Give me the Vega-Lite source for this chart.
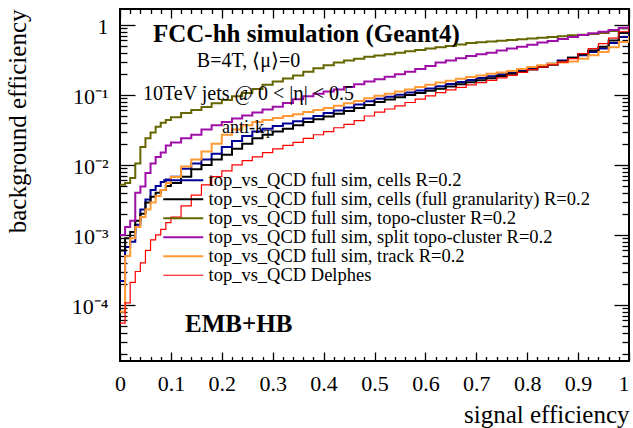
{
  "$schema": "https://vega.github.io/schema/vega-lite/v6.json",
  "width": 509,
  "height": 352,
  "autosize": {"type": "none"},
  "padding": {"left": 120, "top": 9, "right": 4, "bottom": 67},
  "background": "white",
  "config": {
    "view": {"stroke": "black", "strokeWidth": 2},
    "font": "Liberation Serif",
    "axis": {"grid": false, "domain": false, "tickColor": "black", "tickWidth": 1.3, "labelColor": "black", "titleColor": "black", "labelFont": "Liberation Serif", "titleFont": "Liberation Serif", "labelFontSize": 22, "titleFontSize": 25, "titleFontWeight": "normal", "labelOverlap": false, "labelFlush": false, "labelBound": false},
    "legend": {"labelFont": "Liberation Serif", "labelColor": "black"}
  },
  "datasets": {
    "roc": [
      {"x": 0.00, "c1": 0.00022, "c2": 0.0006, "c3": 0.0052, "c4": 0.0010, "c5": 0.00008, "c6": 0.000055},
      {"x": 0.01, "c1": 0.00067, "c2": 0.0009, "c3": 0.0055, "c4": 0.0013, "c5": 0.0005, "c6": 0.000107},
      {"x": 0.02, "c1": 0.0008, "c2": 0.0011, "c3": 0.0065, "c4": 0.0016, "c5": 0.0009, "c6": 0.00021},
      {"x": 0.03, "c1": 0.0014, "c2": 0.0016, "c3": 0.0105, "c4": 0.004, "c5": 0.0013, "c6": 0.0003},
      {"x": 0.04, "c1": 0.0023, "c2": 0.0020, "c3": 0.018, "c4": 0.0049, "c5": 0.0018, "c6": 0.0004},
      {"x": 0.05, "c1": 0.0032, "c2": 0.0029, "c3": 0.024, "c4": 0.0077, "c5": 0.0023, "c6": 0.0006},
      {"x": 0.06, "c1": 0.0044, "c2": 0.0035, "c3": 0.029, "c4": 0.0105, "c5": 0.0029, "c6": 0.00085},
      {"x": 0.07, "c1": 0.0050, "c2": 0.0040, "c3": 0.035, "c4": 0.013, "c5": 0.0036, "c6": 0.0010},
      {"x": 0.08, "c1": 0.0057, "c2": 0.0044, "c3": 0.040, "c4": 0.015, "c5": 0.0044, "c6": 0.0012},
      {"x": 0.09, "c1": 0.0062, "c2": 0.0050, "c3": 0.044, "c4": 0.019, "c5": 0.0055, "c6": 0.0015},
      {"x": 0.10, "c1": 0.0068, "c2": 0.0055, "c3": 0.048, "c4": 0.021, "c5": 0.0067, "c6": 0.0018},
      {"x": 0.12, "c1": 0.0088, "c2": 0.0068, "c3": 0.055, "c4": 0.024, "c5": 0.0095, "c6": 0.0026},
      {"x": 0.14, "c1": 0.0105, "c2": 0.0087, "c3": 0.061, "c4": 0.027, "c5": 0.012, "c6": 0.0037},
      {"x": 0.16, "c1": 0.012, "c2": 0.010, "c3": 0.067, "c4": 0.032, "c5": 0.0155, "c6": 0.0052},
      {"x": 0.18, "c1": 0.0145, "c2": 0.012, "c3": 0.076, "c4": 0.037, "c5": 0.020, "c6": 0.0068},
      {"x": 0.20, "c1": 0.018, "c2": 0.014, "c3": 0.085, "c4": 0.041, "c5": 0.027, "c6": 0.0082},
      {"x": 0.22, "c1": 0.022, "c2": 0.017, "c3": 0.096, "c4": 0.046, "c5": 0.032, "c6": 0.010},
      {"x": 0.24, "c1": 0.026, "c2": 0.020, "c3": 0.107, "c4": 0.051, "c5": 0.037, "c6": 0.0115},
      {"x": 0.26, "c1": 0.030, "c2": 0.024, "c3": 0.122, "c4": 0.056, "c5": 0.041, "c6": 0.013},
      {"x": 0.28, "c1": 0.033, "c2": 0.027, "c3": 0.14, "c4": 0.062, "c5": 0.044, "c6": 0.015},
      {"x": 0.30, "c1": 0.036, "c2": 0.030, "c3": 0.155, "c4": 0.068, "c5": 0.047, "c6": 0.017},
      {"x": 0.32, "c1": 0.039, "c2": 0.033, "c3": 0.172, "c4": 0.077, "c5": 0.050, "c6": 0.019},
      {"x": 0.34, "c1": 0.042, "c2": 0.037, "c3": 0.19, "c4": 0.087, "c5": 0.053, "c6": 0.021},
      {"x": 0.36, "c1": 0.046, "c2": 0.041, "c3": 0.215, "c4": 0.096, "c5": 0.057, "c6": 0.024},
      {"x": 0.38, "c1": 0.050, "c2": 0.045, "c3": 0.24, "c4": 0.104, "c5": 0.061, "c6": 0.027},
      {"x": 0.40, "c1": 0.055, "c2": 0.049, "c3": 0.265, "c4": 0.112, "c5": 0.065, "c6": 0.030},
      {"x": 0.42, "c1": 0.060, "c2": 0.054, "c3": 0.29, "c4": 0.12, "c5": 0.070, "c6": 0.034},
      {"x": 0.44, "c1": 0.066, "c2": 0.059, "c3": 0.31, "c4": 0.13, "c5": 0.076, "c6": 0.038},
      {"x": 0.46, "c1": 0.073, "c2": 0.065, "c3": 0.33, "c4": 0.142, "c5": 0.082, "c6": 0.043},
      {"x": 0.48, "c1": 0.081, "c2": 0.072, "c3": 0.35, "c4": 0.155, "c5": 0.090, "c6": 0.050},
      {"x": 0.50, "c1": 0.088, "c2": 0.079, "c3": 0.365, "c4": 0.168, "c5": 0.097, "c6": 0.057},
      {"x": 0.52, "c1": 0.094, "c2": 0.086, "c3": 0.38, "c4": 0.182, "c5": 0.104, "c6": 0.063},
      {"x": 0.54, "c1": 0.101, "c2": 0.093, "c3": 0.40, "c4": 0.198, "c5": 0.112, "c6": 0.070},
      {"x": 0.56, "c1": 0.108, "c2": 0.100, "c3": 0.42, "c4": 0.215, "c5": 0.120, "c6": 0.078},
      {"x": 0.58, "c1": 0.116, "c2": 0.107, "c3": 0.44, "c4": 0.235, "c5": 0.130, "c6": 0.087},
      {"x": 0.60, "c1": 0.124, "c2": 0.115, "c3": 0.46, "c4": 0.26, "c5": 0.140, "c6": 0.097},
      {"x": 0.62, "c1": 0.133, "c2": 0.123, "c3": 0.48, "c4": 0.29, "c5": 0.150, "c6": 0.108},
      {"x": 0.64, "c1": 0.143, "c2": 0.132, "c3": 0.50, "c4": 0.31, "c5": 0.160, "c6": 0.118},
      {"x": 0.66, "c1": 0.153, "c2": 0.142, "c3": 0.525, "c4": 0.335, "c5": 0.170, "c6": 0.128},
      {"x": 0.68, "c1": 0.163, "c2": 0.152, "c3": 0.55, "c4": 0.36, "c5": 0.180, "c6": 0.139},
      {"x": 0.70, "c1": 0.174, "c2": 0.162, "c3": 0.565, "c4": 0.38, "c5": 0.190, "c6": 0.150},
      {"x": 0.72, "c1": 0.185, "c2": 0.173, "c3": 0.58, "c4": 0.40, "c5": 0.200, "c6": 0.162},
      {"x": 0.74, "c1": 0.197, "c2": 0.186, "c3": 0.595, "c4": 0.43, "c5": 0.210, "c6": 0.175},
      {"x": 0.76, "c1": 0.21, "c2": 0.20, "c3": 0.61, "c4": 0.46, "c5": 0.220, "c6": 0.19},
      {"x": 0.78, "c1": 0.225, "c2": 0.215, "c3": 0.625, "c4": 0.49, "c5": 0.235, "c6": 0.21},
      {"x": 0.80, "c1": 0.24, "c2": 0.23, "c3": 0.64, "c4": 0.52, "c5": 0.250, "c6": 0.23},
      {"x": 0.82, "c1": 0.26, "c2": 0.25, "c3": 0.655, "c4": 0.56, "c5": 0.265, "c6": 0.25},
      {"x": 0.84, "c1": 0.28, "c2": 0.27, "c3": 0.67, "c4": 0.59, "c5": 0.280, "c6": 0.27},
      {"x": 0.86, "c1": 0.31, "c2": 0.30, "c3": 0.69, "c4": 0.63, "c5": 0.290, "c6": 0.295},
      {"x": 0.88, "c1": 0.34, "c2": 0.34, "c3": 0.71, "c4": 0.67, "c5": 0.300, "c6": 0.33},
      {"x": 0.90, "c1": 0.37, "c2": 0.38, "c3": 0.725, "c4": 0.72, "c5": 0.330, "c6": 0.39},
      {"x": 0.92, "c1": 0.41, "c2": 0.43, "c3": 0.745, "c4": 0.76, "c5": 0.370, "c6": 0.46},
      {"x": 0.94, "c1": 0.46, "c2": 0.49, "c3": 0.77, "c4": 0.80, "c5": 0.410, "c6": 0.54},
      {"x": 0.96, "c1": 0.55, "c2": 0.60, "c3": 0.82, "c4": 0.85, "c5": 0.480, "c6": 0.65},
      {"x": 0.98, "c1": 0.67, "c2": 0.77, "c3": 0.90, "c4": 0.91, "c5": 0.570, "c6": 0.80},
      {"x": 1.00, "c1": 0.85, "c2": 0.88, "c3": 0.95, "c4": 0.97, "c5": 0.700, "c6": 0.92}
    ]
  },
  "layer": [
    {
      "data": {"name": "roc"},
      "transform": [{"fold": ["c1", "c2", "c3", "c4", "c5", "c6"], "as": ["series", "eff"]}],
      "mark": {"type": "line", "interpolate": "step-after", "clip": true},
      "encoding": {
        "x": {
          "field": "x", "type": "quantitative",
          "scale": {"domain": [0, 1], "nice": false, "zero": false},
          "axis": {
            "orient": "bottom",
            "values": [0,0.02,0.04,0.06,0.08,0.1,0.12,0.14,0.16,0.18,0.2,0.22,0.24,0.26,0.28,0.3,0.32,0.34,0.36,0.38,0.4,0.42,0.44,0.46,0.48,0.5,0.52,0.54,0.56,0.58,0.6,0.62,0.64,0.66,0.68,0.7,0.72,0.74,0.76,0.78,0.8,0.82,0.84,0.86,0.88,0.9,0.92,0.94,0.96,0.98,1],
            "format": "~g",
            "labelOverlap": false,
            "labelExpr": "abs(datum.value*10 - round(datum.value*10)) < 0.001 ? datum.label : ''",
            "labelAlign": {"condition": {"test": "datum.value == 1", "value": "right"}, "value": "center"},
            "tickSize": {"condition": {"test": "abs(datum.value*10 - round(datum.value*10)) < 0.001", "value": -9}, "value": -4.5},
            "labelPadding": 21,
            "title": "signal efficiency",
            "titleAnchor": "end",
            "titlePadding": 4
          }
        },
        "y": {
          "field": "eff", "type": "quantitative",
          "scale": {"type": "log", "domain": [0.0000158, 1.69], "nice": false},
          "axis": {
            "orient": "left",
            "values": [0.00002,0.00003,0.00004,0.00005,0.00006,0.00007,0.00008,0.00009,0.0001,0.0002,0.0003,0.0004,0.0005,0.0006,0.0007,0.0008,0.0009,0.001,0.002,0.003,0.004,0.005,0.006,0.007,0.008,0.009,0.01,0.02,0.03,0.04,0.05,0.06,0.07,0.08,0.09,0.1,0.2,0.3,0.4,0.5,0.6,0.7,0.8,0.9,1],
            "labelOverlap": false,
            "labelExpr": "datum.value == 1 ? '1' : datum.value == 0.1 ? '10⁻¹' : datum.value == 0.01 ? '10⁻²' : datum.value == 0.001 ? '10⁻³' : datum.value == 0.0001 ? '10⁻⁴' : ''",
            "tickSize": {"condition": {"test": "datum.value == 1 || datum.value == 0.1 || datum.value == 0.01 || datum.value == 0.001 || datum.value == 0.0001", "value": -15}, "value": -7},
            "labelPadding": 27,
            "labelOffset": 2,
            "title": "background efficiency",
            "titleAnchor": "end",
            "titlePadding": 41
          }
        },
        "color": {
          "field": "series", "type": "nominal",
          "scale": {"domain": ["c1", "c2", "c3", "c4", "c5", "c6"], "range": ["#000099", "#000000", "#666600", "#9f0fa8", "#ff9933", "#ff0000"]},
          "legend": {
            "orient": "none", "legendX": 54, "legendY": 162, "title": null,
            "symbolType": "M-4,0H4", "symbolSize": 100, "symbolStrokeWidth": 2,
            "labelFont": "Liberation Serif", "labelFontSize": 18.5, "labelColor": "black", "labelLimit": 800,
            "labelOffset": 16, "rowPadding": 0, "padding": 0,
            "labelExpr": "datum.label == 'c1' ? 'top_vs_QCD full sim, cells R=0.2' : datum.label == 'c2' ? 'top_vs_QCD full sim, cells (full granularity) R=0.2' : datum.label == 'c3' ? 'top_vs_QCD full sim, topo-cluster R=0.2' : datum.label == 'c4' ? 'top_vs_QCD full sim, split topo-cluster R=0.2' : datum.label == 'c5' ? 'top_vs_QCD full sim, track R=0.2' : 'top_vs_QCD Delphes'"
          }
        },
        "strokeWidth": {
          "field": "series", "type": "nominal",
          "scale": {"type": "ordinal", "domain": ["c1", "c2", "c3", "c4", "c5", "c6"], "range": [2, 2, 2, 2, 2, 1.2]},
          "legend": null
        }
      }
    },
    {
      "layer": [
        {
          "data": {"values": [{}]},
          "mark": {"type": "text", "text": "FCC-hh simulation (Geant4)", "font": "Liberation Serif", "fontWeight": "bold", "fontSize": 25, "align": "left", "baseline": "alphabetic", "color": "black"},
          "encoding": {
            "x": {"datum": 0.0648, "type": "quantitative", "axis": null},
            "y": {"datum": 0.571, "type": "quantitative", "axis": null}
          }
        },
        {
          "data": {"values": [{}]},
          "mark": {"type": "text", "text": "B=4T, ⟨μ⟩=0", "font": "Liberation Serif", "fontSize": 20, "align": "left", "baseline": "alphabetic", "color": "black"},
          "encoding": {
            "x": {"datum": 0.151, "type": "quantitative", "axis": null},
            "y": {"datum": 0.251, "type": "quantitative", "axis": null}
          }
        },
        {
          "data": {"values": [{}]},
          "mark": {"type": "text", "text": "10TeV jets @ 0 < |η| < 0.5", "font": "Liberation Serif", "fontSize": 20, "align": "left", "baseline": "alphabetic", "color": "black"},
          "encoding": {
            "x": {"datum": 0.0452, "type": "quantitative", "axis": null},
            "y": {"datum": 0.0848, "type": "quantitative", "axis": null}
          }
        },
        {
          "data": {"values": [{}]},
          "mark": {"type": "text", "text": "anti-k", "font": "Liberation Serif", "fontSize": 18, "align": "left", "baseline": "alphabetic", "color": "black"},
          "encoding": {
            "x": {"datum": 0.2004, "type": "quantitative", "axis": null},
            "y": {"datum": 0.0287, "type": "quantitative", "axis": null}
          }
        },
        {
          "data": {"values": [{}]},
          "mark": {"type": "text", "text": "T", "font": "Liberation Serif", "fontSize": 13, "align": "left", "baseline": "alphabetic", "color": "black"},
          "encoding": {
            "x": {"datum": 0.283, "type": "quantitative", "axis": null},
            "y": {"datum": 0.0243, "type": "quantitative", "axis": null}
          }
        },
        {
          "data": {"values": [{}]},
          "mark": {"type": "text", "text": "EMB+HB", "font": "Liberation Serif", "fontWeight": "bold", "fontSize": 25, "align": "left", "baseline": "alphabetic", "color": "black"},
          "encoding": {
            "x": {"datum": 0.1277, "type": "quantitative", "axis": null},
            "y": {"datum": 0.0000411, "type": "quantitative", "axis": null}
          }
        }
      ]
    },
    {
      "data": {"name": "roc"},
      "transform": [{"fold": ["c1", "c2", "c3", "c4", "c5", "c6"], "as": ["series", "eff"]}],
      "mark": {"type": "point", "opacity": 0},
      "encoding": {
        "x": {
          "field": "x", "type": "quantitative",
          "scale": {"domain": [0, 1], "nice": false, "zero": false},
          "axis": {
            "orient": "top", "labels": false, "title": null,
            "values": [0,0.02,0.04,0.06,0.08,0.1,0.12,0.14,0.16,0.18,0.2,0.22,0.24,0.26,0.28,0.3,0.32,0.34,0.36,0.38,0.4,0.42,0.44,0.46,0.48,0.5,0.52,0.54,0.56,0.58,0.6,0.62,0.64,0.66,0.68,0.7,0.72,0.74,0.76,0.78,0.8,0.82,0.84,0.86,0.88,0.9,0.92,0.94,0.96,0.98,1],
            "tickSize": {"condition": {"test": "abs(datum.value*10 - round(datum.value*10)) < 0.001", "value": -9}, "value": -4.5}
          }
        },
        "y": {
          "field": "eff", "type": "quantitative",
          "scale": {"type": "log", "domain": [0.0000158, 1.69], "nice": false},
          "axis": {
            "orient": "right", "labels": false, "title": null,
            "values": [0.00002,0.00003,0.00004,0.00005,0.00006,0.00007,0.00008,0.00009,0.0001,0.0002,0.0003,0.0004,0.0005,0.0006,0.0007,0.0008,0.0009,0.001,0.002,0.003,0.004,0.005,0.006,0.007,0.008,0.009,0.01,0.02,0.03,0.04,0.05,0.06,0.07,0.08,0.09,0.1,0.2,0.3,0.4,0.5,0.6,0.7,0.8,0.9,1],
            "tickSize": {"condition": {"test": "datum.value == 1 || datum.value == 0.1 || datum.value == 0.01 || datum.value == 0.001 || datum.value == 0.0001", "value": -15}, "value": -7}
          }
        }
      }
    }
  ],
  "resolve": {"axis": {"x": "independent", "y": "independent"}}
}
